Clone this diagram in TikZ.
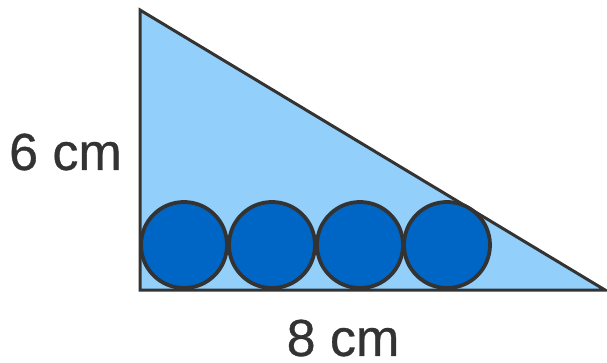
\documentclass[tikz,border=0pt]{standalone}
\usepackage{fontspec}
\setmainfont{Liberation Sans}[FakeBold=0.6]
\definecolor{tri}{HTML}{92CFFA}
\definecolor{ball}{HTML}{0066C6}
\definecolor{ink}{HTML}{333333}
\begin{document}
\begin{tikzpicture}[x=1pt,y=-1pt,
  ballst/.style={circle,draw=ink,fill=ball,line width=3.8pt,minimum size=86pt,inner sep=0pt},
  lab/.style={text=ink,font=\fontsize{52}{60}\selectfont,inner sep=0pt}]
\useasboundingbox (0,0) rectangle (607,363);
\draw[fill=tri,draw=ink,line width=3pt,line join=miter] (140,10) -- (140,290) -- (605,290) -- cycle;
\foreach \i/\x in {1/184,2/272,3/360,4/447}
  \node[ballst] (c\i) at (\x,245) {};
\node[lab] (h) at (65.5,152) {6 cm};
\node[lab] (w) at (343,338) {8 cm};
\end{tikzpicture}
\end{document}
